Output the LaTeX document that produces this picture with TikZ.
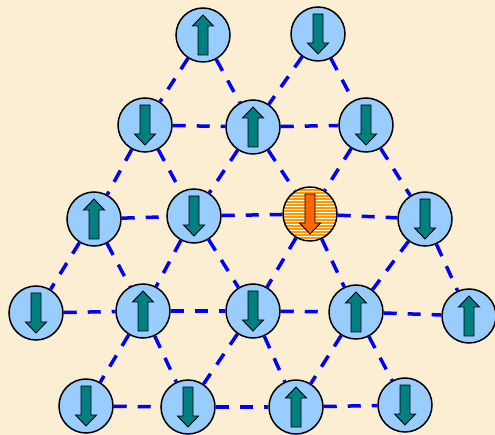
\documentclass[tikz,border=0pt]{standalone}
\usepackage{tikz}
\usetikzlibrary{patterns}
\pgfdeclarelayer{backlayer}
\pgfdeclarelayer{edgelayer}
\pgfdeclarelayer{nodelayer}
\pgfsetlayers{backlayer,edgelayer,nodelayer,main}
\definecolor{paper}{RGB}{251,238,210}
\definecolor{spinblue}{RGB}{153,204,255}
\definecolor{spinteal}{RGB}{0,128,128}
\definecolor{hotorange}{RGB}{255,153,0}
\definecolor{hotarrow}{RGB}{255,102,0}
\newcommand{\uppath}{(-5,-20) -- (-5,9) -- (-10.5,9) -- (0,20) -- (10.5,9) -- (5,9) -- (5,-20) -- cycle}
\newcommand{\downpath}{(-5,20) -- (-5,-9) -- (-10.5,-9) -- (0,-20) -- (10.5,-9) -- (5,-9) -- (5,20) -- cycle}
\tikzstyle{bond}=[draw=blue, line width=3.5pt, dash pattern=on 13pt off 11pt]
\tikzstyle{spin}=[circle, draw=black, line width=1.5pt, fill=spinblue, minimum size=54pt, inner sep=0pt]
\tikzstyle{arrowline}=[draw=black, line width=0.9pt, line join=miter, shift={(path picture bounding box.center)}]
\tikzstyle{spinup}=[style=spin, path picture={\draw [style=arrowline, fill=spinteal] \uppath;}]
\tikzstyle{spindown}=[style=spin, path picture={\draw [style=arrowline, fill=spinteal] \downpath;}]
\tikzstyle{hotdown}=[style=spin, preaction={fill=hotorange}, pattern=horizontal lines, pattern color=white, path picture={\draw [style=arrowline, fill=hotarrow] \downpath;}]

\begin{document}
\begin{tikzpicture}[x=1pt, y=1pt]
	\useasboundingbox (0, 0) rectangle (495, -435);
	\begin{pgfonlayer}{backlayer}
		\fill [paper] (0, 0) rectangle (495, -435);
	\end{pgfonlayer}
	\begin{pgfonlayer}{nodelayer}
		\node [style=spinup] (0) at (203, -35) {};
		\node [style=spindown] (1) at (318, -34) {};
		\node [style=spindown] (2) at (145, -125) {};
		\node [style=spinup] (3) at (253, -127) {};
		\node [style=spindown] (4) at (366, -125) {};
		\node [style=spinup] (5) at (94, -219) {};
		\node [style=spindown] (6) at (194, -216) {};
		\node [style=hotdown] (7) at (310, -214) {};
		\node [style=spindown] (8) at (425, -219) {};
		\node [style=spindown] (9) at (36, -313) {};
		\node [style=spinup] (10) at (143, -311) {};
		\node [style=spindown] (11) at (253, -311) {};
		\node [style=spinup] (12) at (356, -312) {};
		\node [style=spinup] (13) at (469, -316) {};
		\node [style=spindown] (14) at (86, -406) {};
		\node [style=spindown] (15) at (188, -407) {};
		\node [style=spinup] (16) at (296, -407) {};
		\node [style=spindown] (17) at (405, -405) {};
	\end{pgfonlayer}
	\begin{pgfonlayer}{edgelayer}
		% top row to second row
		\draw [style=bond] (0) to (2);
		\draw [style=bond] (0) to (3);
		\draw [style=bond] (1) to (3);
		\draw [style=bond] (1) to (4);
		\draw [style=bond] (2) to (3);
		\draw [style=bond] (3) to (4);
		% second row to third row
		\draw [style=bond] (2) to (5);
		\draw [style=bond] (2) to (6);
		\draw [style=bond] (3) to (6);
		\draw [style=bond] (3) to (7);
		\draw [style=bond] (4) to (7);
		\draw [style=bond] (4) to (8);
		\draw [style=bond] (5) to (6);
		\draw [style=bond] (6) to (7);
		\draw [style=bond] (7) to (8);
		% third row to fourth row
		\draw [style=bond] (5) to (9);
		\draw [style=bond] (5) to (10);
		\draw [style=bond] (6) to (10);
		\draw [style=bond] (6) to (11);
		\draw [style=bond] (7) to (11);
		\draw [style=bond] (7) to (12);
		\draw [style=bond] (8) to (12);
		\draw [style=bond] (8) to (13);
		\draw [style=bond] (9) to (10);
		\draw [style=bond] (10) to (11);
		\draw [style=bond] (11) to (12);
		\draw [style=bond] (12) to (13);
		% fourth row to bottom row
		\draw [style=bond] (10) to (14);
		\draw [style=bond] (10) to (15);
		\draw [style=bond] (11) to (15);
		\draw [style=bond] (11) to (16);
		\draw [style=bond] (12) to (16);
		\draw [style=bond] (12) to (17);
		\draw [style=bond] (14) to (15);
		\draw [style=bond] (15) to (16);
		\draw [style=bond] (16) to (17);
	\end{pgfonlayer}
\end{tikzpicture}
\end{document}
